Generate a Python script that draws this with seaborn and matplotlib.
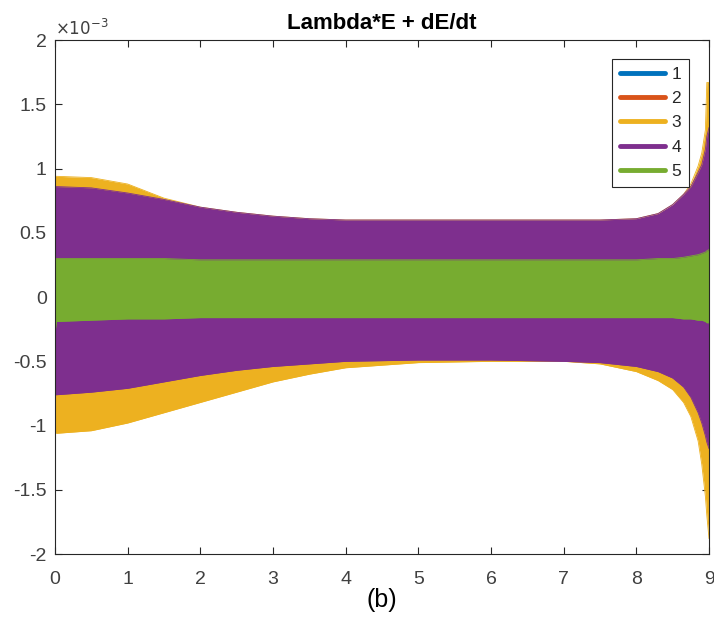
import numpy as np
import matplotlib
matplotlib.use("Agg")
import matplotlib.pyplot as plt
import seaborn as sns
from matplotlib.lines import Line2D
from matplotlib.ticker import FuncFormatter, FixedLocator

# ---------------- data (values in units of 1e-3) ----------------
series_labels = ["1", "2", "3", "4", "5"]
series_colors = ["#0072BD", "#D95319", "#EDB120", "#7E2F8E", "#77AC30"]

# knot positions along t
x_knots = [0.0, 0.02, 0.5, 1.0, 1.5, 2.0, 2.5, 3.0, 3.5, 4.0, 5.0, 6.0, 7.0,
           7.5, 8.0, 8.3, 8.5, 8.65, 8.75, 8.85, 8.9, 8.95, 8.97, 9.0]

# series 1 and 2 (small, hidden under the others)
s1_upper = [0.10, 0.10, 0.10, 0.10, 0.10, 0.10, 0.10, 0.10, 0.10, 0.10, 0.10, 0.10, 0.10,
            0.10, 0.10, 0.10, 0.10, 0.10, 0.10, 0.10, 0.10, 0.10, 0.10, 0.10]
s1_lower = [-0.08, -0.08, -0.08, -0.08, -0.08, -0.08, -0.08, -0.08, -0.08, -0.08, -0.08, -0.08, -0.08,
            -0.08, -0.08, -0.08, -0.08, -0.08, -0.08, -0.08, -0.08, -0.08, -0.08, -0.08]
s2_upper = [0.15, 0.15, 0.15, 0.15, 0.15, 0.15, 0.15, 0.15, 0.15, 0.15, 0.15, 0.15, 0.15,
            0.15, 0.15, 0.15, 0.15, 0.15, 0.15, 0.16, 0.17, 0.18, 0.18, 0.19]
s2_lower = [-0.12, -0.12, -0.12, -0.12, -0.12, -0.12, -0.12, -0.12, -0.12, -0.12, -0.12, -0.12, -0.12,
            -0.12, -0.12, -0.12, -0.12, -0.12, -0.12, -0.13, -0.13, -0.14, -0.14, -0.15]

# series 3 (yellow)
s3_upper = [0.94, 0.94, 0.93, 0.88, 0.77, 0.70, 0.66, 0.63, 0.61, 0.60, 0.60, 0.60, 0.60,
            0.60, 0.61, 0.65, 0.72, 0.80, 0.88, 1.02, 1.12, 1.30, 1.67, 1.67]
s3_lower = [-1.05, -1.06, -1.04, -0.98, -0.90, -0.82, -0.74, -0.66, -0.60, -0.55, -0.51, -0.50, -0.50,
            -0.52, -0.58, -0.65, -0.72, -0.82, -0.93, -1.12, -1.30, -1.55, -1.70, -1.88]

# series 4 (purple)
s4_upper = [0.86, 0.86, 0.85, 0.81, 0.76, 0.70, 0.66, 0.63, 0.61, 0.60, 0.60, 0.60, 0.60,
            0.60, 0.61, 0.65, 0.72, 0.80, 0.86, 0.97, 1.03, 1.15, 1.25, 1.32]
s4_lower = [-0.76, -0.76, -0.74, -0.71, -0.66, -0.61, -0.57, -0.54, -0.52, -0.50, -0.49, -0.49, -0.50,
            -0.51, -0.54, -0.58, -0.63, -0.70, -0.78, -0.90, -0.98, -1.08, -1.13, -1.18]

# series 5 (green)
s5_upper = [0.30, 0.30, 0.30, 0.30, 0.30, 0.29, 0.29, 0.29, 0.29, 0.29, 0.29, 0.29, 0.29,
            0.29, 0.29, 0.30, 0.30, 0.31, 0.32, 0.33, 0.34, 0.35, 0.36, 0.37]
s5_lower = [-0.28, -0.19, -0.18, -0.17, -0.17, -0.16, -0.16, -0.16, -0.16, -0.16, -0.16, -0.16, -0.16,
            -0.16, -0.16, -0.16, -0.16, -0.17, -0.17, -0.18, -0.18, -0.19, -0.20, -0.20]

x_ticks = [0, 1, 2, 3, 4, 5, 6, 7, 8, 9]
y_ticks = [-2, -1.5, -1, -0.5, 0, 0.5, 1, 1.5, 2]
SCALE = 1e-3

title_text = "Lambda*E + dE/dt"
xlabel_text = "(b)"

# ---------------- plot ----------------
sns.set_style("ticks")
plt.rcParams["font.family"] = ["Liberation Sans", "DejaVu Sans"]
plt.rcParams["axes.unicode_minus"] = False

fig = plt.figure(figsize=(7.14, 6.17), dpi=100)
ax = fig.add_axes([0.077, 0.102, 0.916, 0.833])

uppers = [s1_upper, s2_upper, s3_upper, s4_upper, s5_upper]
lowers = [s1_lower, s2_lower, s3_lower, s4_lower, s5_lower]
xk = np.array(x_knots)
for up, lo, col in zip(uppers, lowers, series_colors):
    up = np.array(up) * SCALE
    lo = np.array(lo) * SCALE
    ax.fill_between(xk, lo, up, color=col, linewidth=0, zorder=2)
    sns.lineplot(x=xk, y=up, ax=ax, color=col, linewidth=0.6, zorder=2)
    sns.lineplot(x=xk, y=lo, ax=ax, color=col, linewidth=0.6, zorder=2)

ax.set_xlim(0, 9)
ax.set_ylim(-2 * SCALE, 2 * SCALE)
ax.xaxis.set_major_locator(FixedLocator(x_ticks))
ax.yaxis.set_major_locator(FixedLocator([v * SCALE for v in y_ticks]))
ax.xaxis.set_major_formatter(FuncFormatter(lambda v, p: "%g" % round(v, 6)))
ax.yaxis.set_major_formatter(FuncFormatter(lambda v, p: "%g" % round(v / SCALE, 6)))

axis_color = "#262626"
for s in ax.spines.values():
    s.set_color(axis_color)
    s.set_linewidth(0.8)
    s.set_visible(True)
ax.tick_params(direction="in", length=5, width=0.8, colors=axis_color,
               labelsize=14, labelcolor="#404040", top=True, right=True)
ax.tick_params(axis="x", pad=12)
ax.tick_params(axis="y", pad=6)

ax.text(0.0, 1.005, r"$\times 10^{-3}$", transform=ax.transAxes, ha="left", va="bottom",
        fontsize=12, color="#404040")
ax.set_title(title_text, fontsize=16, fontweight="bold", color="black", pad=8)
ax.set_xlabel(xlabel_text, fontsize=18, color="black", labelpad=0)

handles = [Line2D([0], [0], color=c, linewidth=3.5) for c in series_colors]
leg = ax.legend(handles, series_labels, loc="upper right", bbox_to_anchor=(0.969, 0.963),
                fontsize=12.5, frameon=True, fancybox=False, handlelength=2.6,
                handletextpad=0.35, labelspacing=0.52, borderpad=0.45, borderaxespad=0)
leg.get_frame().set_edgecolor(axis_color)
leg.get_frame().set_linewidth(0.8)
leg.get_frame().set_alpha(1)

fig.savefig("out.png", dpi=100)
